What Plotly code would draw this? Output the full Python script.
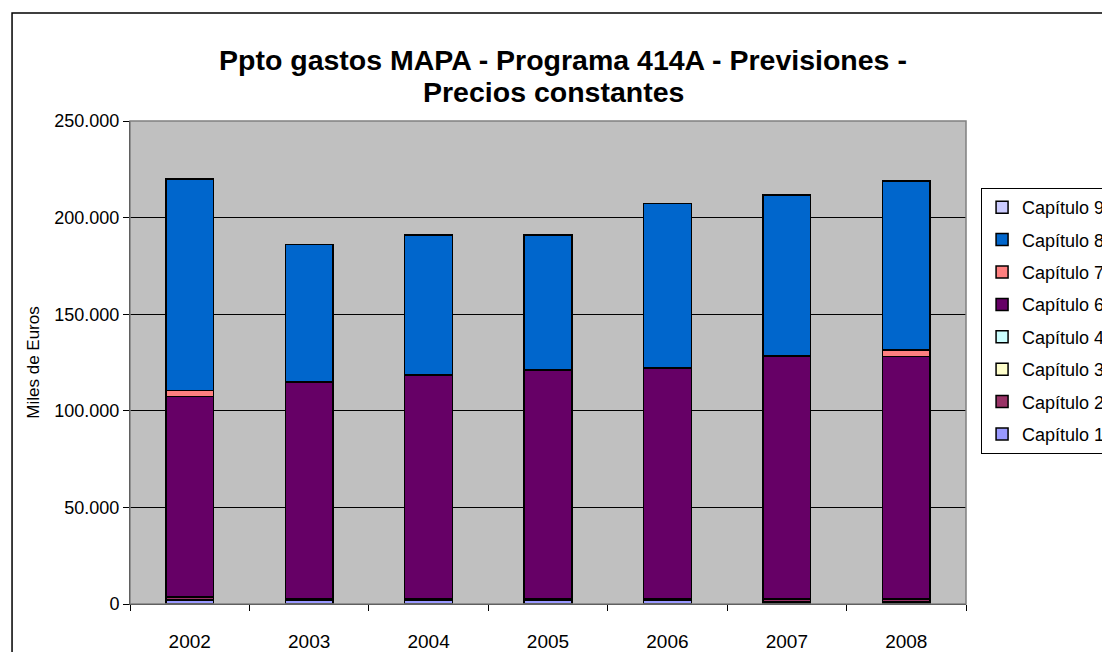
import plotly.graph_objects as go

years = ["2002", "2003", "2004", "2005", "2006", "2007", "2008"]

# Miles de euros por capitulo
cap1 = [2200, 2100, 2100, 2100, 2100, 1100, 1100]
cap2 = [1500, 400, 400, 400, 400, 1600, 1600]
cap3 = [100, 100, 100, 100, 100, 100, 100]
cap4 = [100, 100, 100, 100, 100, 100, 100]
cap6 = [103500, 112100, 115600, 118200, 119400, 125100, 125100]
cap7 = [3000, 200, 200, 200, 200, 300, 3600]
cap8 = [109700, 71000, 72500, 69900, 84900, 83400, 87400]
cap9 = [100, 100, 100, 100, 100, 100, 100]

series = [
    ("Capítulo 1", cap1, "#9999FF"),
    ("Capítulo 2", cap2, "#993366"),
    ("Capítulo 3", cap3, "#FFFFCC"),
    ("Capítulo 4", cap4, "#CCFFFF"),
    ("Capítulo 6", cap6, "#660066"),
    ("Capítulo 7", cap7, "#FF8080"),
    ("Capítulo 8", cap8, "#0066CC"),
    ("Capítulo 9", cap9, "#CCCCFF"),
]

title_lines = ["Ppto gastos MAPA - Programa 414A - Previsiones -", "Precios constantes"]

fig = go.Figure()
for i, (name, values, color) in enumerate(series):
    fig.add_trace(go.Bar(
        x=years,
        y=values,
        name=name,
        legendgroup=name,
        legendrank=100 - i,
        marker=dict(color=color, line=dict(color="black", width=1.5))
    ))

# la pagina tiene 8px de margen en el body, por eso 1102x644
fig.update_layout(
    width=1102,
    height=644,
    barmode="stack",
    bargap=0.6,
    separators=",.",
    paper_bgcolor="white",
    plot_bgcolor="#C0C0C0",
    font=dict(family="Liberation Sans, Arial, sans-serif", size=16, color="black"),
    margin=dict(l=122, r=144, t=113, b=48),
    legend=dict(
        xref="container",
        yref="container",
        x=0.883,
        y=0.7205,
        xanchor="left",
        yanchor="top",
        traceorder="grouped",
        tracegroupgap=6,
        itemwidth=30,
        bgcolor="white",
        bordercolor="black",
        borderwidth=1,
        font=dict(size=18)
    ),
    showlegend=True,
)

# titulo en dos lineas
for text, x, y in zip(title_lines, [0.518, 0.507], [1.1263, 1.06]):
    fig.add_annotation(
        text=f"<b>{text}</b>", xref="paper", yref="paper", x=x, y=y,
        xanchor="center", yanchor="middle", showarrow=False,
        font=dict(size=28.5)
    )

fig.update_xaxes(
    automargin=False,
    showline=True,
    linecolor="black",
    linewidth=1,
    ticks="outside",
    tickson="boundaries",
    ticklen=6,
    tickcolor="black",
    tickfont=dict(size=19),
    ticklabelstandoff=20,
    showgrid=False
)

fig.update_yaxes(
    automargin=False,
    range=[0, 250000],
    dtick=50000,
    tickformat=",.0f",
    showline=True,
    linecolor="black",
    linewidth=1,
    ticks="outside",
    ticklen=6,
    tickcolor="black",
    tickfont=dict(size=18),
    showgrid=True,
    gridcolor="black",
    gridwidth=1,
    zeroline=False,
    title=dict(text="Miles de Euros", font=dict(size=17), standoff=10)
)

# borde del area de trazado y marco del grafico
fig.add_shape(type="rect", xref="paper", yref="paper", x0=0, y0=0, x1=1, y1=1,
              line=dict(color="#808080", width=1.5), layer="above")
fig.add_shape(type="rect", xref="paper", yref="paper",
              x0=-0.1411, y0=-0.3, x1=1.3, y1=1.2236,
              line=dict(color="black", width=1.5), layer="below")

fig.write_html("out.html")
